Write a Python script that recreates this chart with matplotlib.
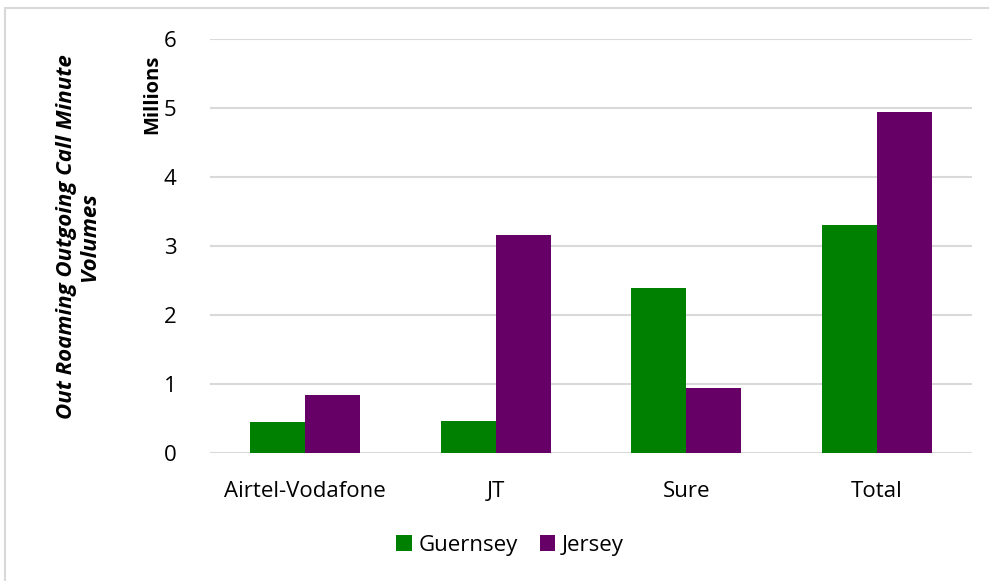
import matplotlib
matplotlib.use("Agg")
import matplotlib.pyplot as plt
from matplotlib.patches import Rectangle
import numpy as np

categories = ["Airtel-Vodafone", "JT", "Sure", "Total"]
guernsey = [0.46, 0.47, 2.39, 3.31]
jersey = [0.85, 3.16, 0.94, 4.94]
y_ticks = [0, 1, 2, 3, 4, 5, 6]

GREEN = "#008000"
PURPLE = "#660066"
GRID = "#d9d9d9"
FONT = "Open Sans"

plt.rcParams["font.family"] = [FONT, "DejaVu Sans"]

fig = plt.figure(figsize=(9.89, 5.81), dpi=100)

# outer chart frame
fig.patches.append(Rectangle((5 / 989, -0.1), 1.2, (581 - 8) / 581 + 0.1,
                             transform=fig.transFigure, fill=False,
                             edgecolor=GRID, linewidth=1.5, zorder=0))

ax = fig.add_axes([210 / 989, 1 - 453.3 / 581, 762 / 989, (453.3 - 38.7) / 581])

x = np.arange(len(categories))
w = 0.289
ax.bar(x - w / 2, guernsey, w, color=GREEN, label="Guernsey", zorder=3)
ax.bar(x + w / 2, jersey, w, color=PURPLE, label="Jersey", zorder=3)

ax.set_xlim(-0.5, len(categories) - 0.5)
ax.set_ylim(0, 6)
ax.set_yticks(y_ticks)
ax.set_xticks(x)
ax.set_xticklabels(categories)
ax.yaxis.grid(True, color=GRID, linewidth=1.5, zorder=0)
ax.set_axisbelow(True)
for s in ax.spines.values():
    s.set_visible(False)
ax.tick_params(axis="both", length=0, labelsize=16, colors="#000000")
ax.tick_params(axis="x", pad=20)
ax.tick_params(axis="y", pad=24)

fig.text(152 / 989, 1 - 94 / 581, "Millions", rotation=90, ha="center", va="center",
         fontsize=14.5, fontweight="bold")
fig.text(78 / 989, 1 - 237 / 581, "Out Roaming Outgoing Call Minute\nVolumes",
         rotation=90, ha="center", va="center", fontsize=16, fontweight="bold",
         fontstyle="italic", linespacing=1.1)

fig.legend(loc="center", bbox_to_anchor=(510 / 989, 1 - 545 / 581), ncol=2,
           frameon=False, fontsize=16, handlelength=0.7, handleheight=0.7,
           handletextpad=0.3, columnspacing=1.0)

fig.savefig("out.png", dpi=100)
